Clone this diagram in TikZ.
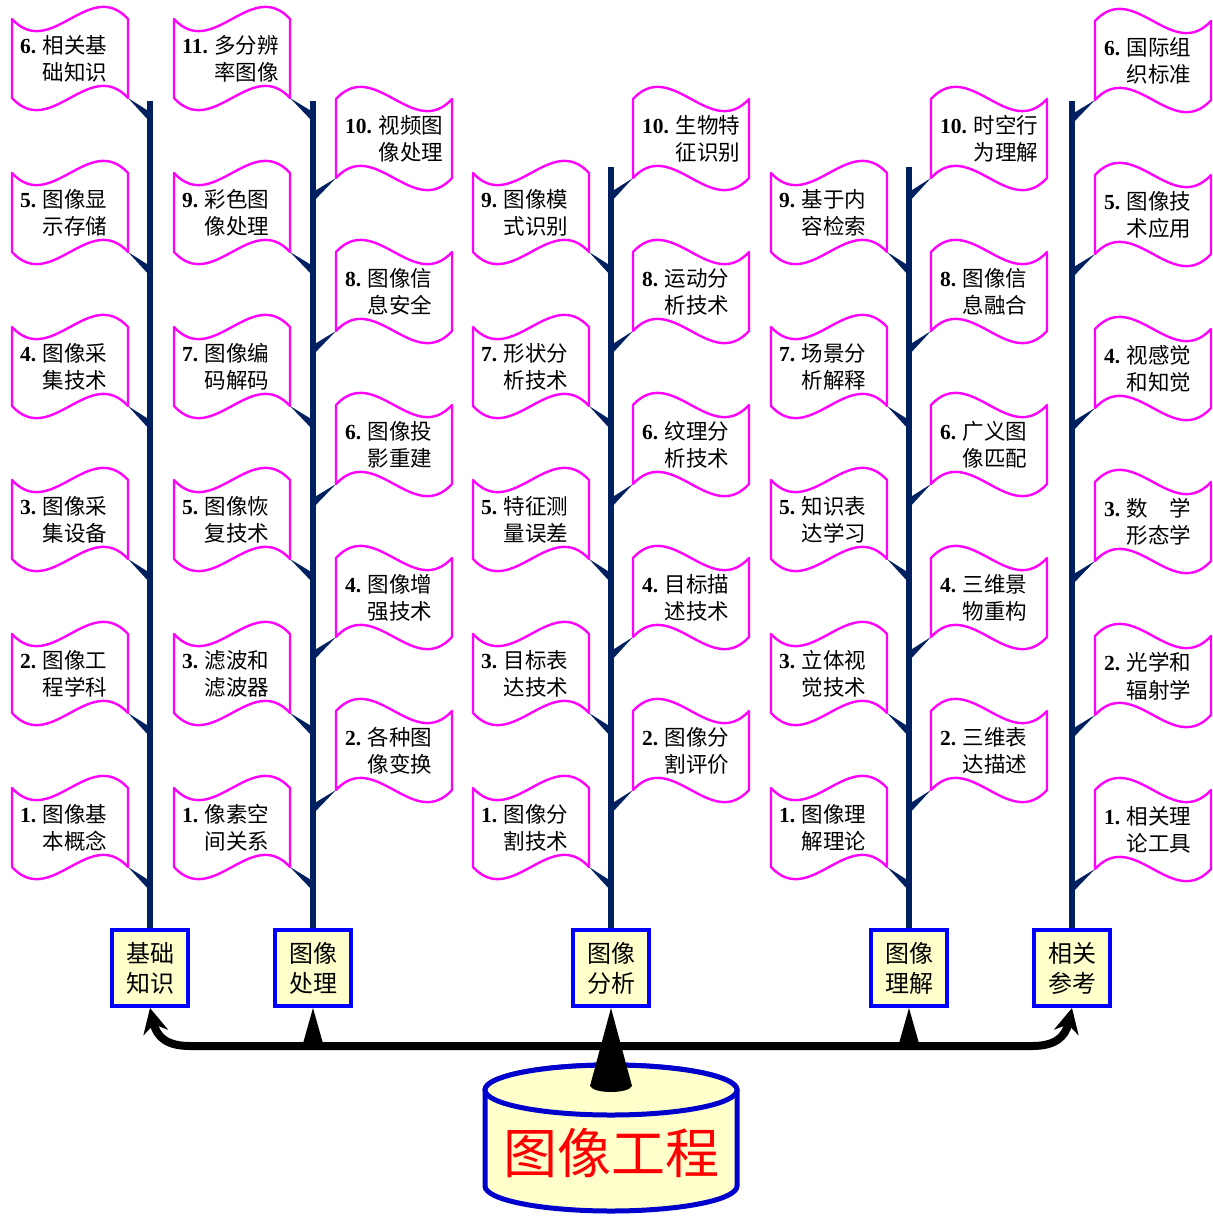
\documentclass[tikz,border=0pt]{standalone}
\usepackage{fontspec}
\setmainfont{Liberation Serif}
\newfontfamily\cjk{Noto Sans CJK SC}
\usetikzlibrary{arrows.meta}
\definecolor{navy}{RGB}{0,32,96}
\definecolor{flagmag}{RGB}{255,0,255}
\definecolor{boxblue}{RGB}{0,0,255}
\definecolor{paleyel}{RGB}{255,255,204}
\definecolor{cylblue}{RGB}{0,0,204}
\newcommand\flnum[1]{{\rmfamily\bfseries #1}}
\tikzset{
  flagedge/.style={draw=flagmag, line width=2.4pt, fill=white, line join=round},
  flagtext/.style={anchor=west, align=left, inner sep=0pt, font=\cjk\fontsize{21.5}{27.5}\selectfont},
  catbox/.style={draw=boxblue, line width=4pt, fill=paleyel, minimum width=76pt, minimum height=76pt, align=center, inner sep=0pt, font=\cjk\fontsize{24}{30}\selectfont},
  pole/.style={draw=navy, line width=6pt},
  mainarrow/.style={line width=8pt, -{Stealth[length=25pt,width=25pt]}},
  cyl/.style={draw=cylblue, line width=5pt, fill=paleyel},
}
% left flag: name, cx, cy, num, line1, line2, pole x
\newcommand\LF[7]{%
  \fill[navy] (#2,#3) -- (#7,#3+14) -- (#7,#3+24) -- cycle;
  \draw[flagedge] (#2-116,#3) -- (#2-116,#3-79) .. controls (#2-77.3,#3-37) and (#2-38.7,#3-121) .. (#2,#3-79) -- (#2,#3) .. controls (#2-38.7,#3-42) and (#2-77.3,#3+42) .. cycle;
  \node[flagtext] (#1) at (#2-108,#3-39) {\flnum{#4} #5\\\phantom{\flnum{#4} }#6};
}
% right flag
\newcommand\RF[7]{%
  \fill[navy] (#2,#3) -- (#7,#3+14) -- (#7,#3+24) -- cycle;
  \draw[flagedge] (#2,#3) -- (#2,#3-79) .. controls (#2+38.7,#3-121) and (#2+77.3,#3-37) .. (#2+116,#3-79) -- (#2+116,#3) .. controls (#2+77.3,#3+42) and (#2+38.7,#3-42) .. cycle;
  \node[flagtext] (#1) at (#2+9,#3-39) {\flnum{#4} #5\\\phantom{\flnum{#4} }#6};
}
\begin{document}
\begin{tikzpicture}[x=1pt,y=-1pt]
\useasboundingbox (0,0) rectangle (1213,1216);
% category boxes
\node[catbox] (b1) at (150,968) {基础\\知识};
\node[catbox] (b2) at (313,968) {图像\\处理};
\node[catbox] (b3) at (611,968) {图像\\分析};
\node[catbox] (b4) at (909,968) {图像\\理解};
\node[catbox] (b5) at (1072,968) {相关\\参考};
% poles
\coordinate (t1) at (150,101);
\coordinate (t2) at (313,101);
\coordinate (t3) at (611,167);
\coordinate (t4) at (909,167);
\coordinate (t5) at (1072,101);
\draw[pole] (t1) -- (b1.north);
\draw[pole] (t2) -- (b2.north);
\draw[pole] (t3) -- (b3.north);
\draw[pole] (t4) -- (b4.north);
\draw[pole] (t5) -- (b5.north);
% pole 1
\LF{a6}{128}{98}{6.}{相关基}{础知识}{150}
\LF{a5}{128}{252}{5.}{图像显}{示存储}{150}
\LF{a4}{128}{406}{4.}{图像采}{集技术}{150}
\LF{a3}{128}{559}{3.}{图像采}{集设备}{150}
\LF{a2}{128}{713}{2.}{图像工}{程学科}{150}
\LF{a1}{128}{867}{1.}{图像基}{本概念}{150}
% pole 2
\LF{c11}{290}{98}{11.}{多分辨}{率图像}{313}
\LF{c9}{290}{252}{9.}{彩色图}{像处理}{313}
\LF{c7}{290}{406}{7.}{图像编}{码解码}{313}
\LF{c5}{290}{559}{5.}{图像恢}{复技术}{313}
\LF{c3}{290}{713}{3.}{滤波和}{滤波器}{313}
\LF{c1}{290}{867}{1.}{像素空}{间关系}{313}
\RF{c10}{336}{178}{10.}{视频图}{像处理}{313}
\RF{c8}{336}{331}{8.}{图像信}{息安全}{313}
\RF{c6}{336}{484}{6.}{图像投}{影重建}{313}
\RF{c4}{336}{637}{4.}{图像增}{强技术}{313}
\RF{c2}{336}{790}{2.}{各种图}{像变换}{313}
% pole 3
\LF{d9}{589}{252}{9.}{图像模}{式识别}{611}
\LF{d7}{589}{406}{7.}{形状分}{析技术}{611}
\LF{d5}{589}{559}{5.}{特征测}{量误差}{611}
\LF{d3}{589}{713}{3.}{目标表}{达技术}{611}
\LF{d1}{589}{867}{1.}{图像分}{割技术}{611}
\RF{d10}{633}{178}{10.}{生物特}{征识别}{611}
\RF{d8}{633}{331}{8.}{运动分}{析技术}{611}
\RF{d6}{633}{484}{6.}{纹理分}{析技术}{611}
\RF{d4}{633}{637}{4.}{目标描}{述技术}{611}
\RF{d2}{633}{790}{2.}{图像分}{割评价}{611}
% pole 4
\LF{e9}{887}{252}{9.}{基于内}{容检索}{909}
\LF{e7}{887}{406}{7.}{场景分}{析解释}{909}
\LF{e5}{887}{559}{5.}{知识表}{达学习}{909}
\LF{e3}{887}{713}{3.}{立体视}{觉技术}{909}
\LF{e1}{887}{867}{1.}{图像理}{解理论}{909}
\RF{e10}{931}{178}{10.}{时空行}{为理解}{909}
\RF{e8}{931}{331}{8.}{图像信}{息融合}{909}
\RF{e6}{931}{484}{6.}{广义图}{像匹配}{909}
\RF{e4}{931}{637}{4.}{三维景}{物重构}{909}
\RF{e2}{931}{790}{2.}{三维表}{达描述}{909}
% pole 5
\RF{g6}{1095}{100}{6.}{国际组}{织标准}{1072}
\RF{g5}{1095}{254}{5.}{图像技}{术应用}{1072}
\RF{g4}{1095}{408}{4.}{视感觉}{和知觉}{1072}
\RF{g3}{1095}{561}{3.}{数\hspace{1em}学}{形态学}{1072}
\RF{g2}{1095}{715}{2.}{光学和}{辐射学}{1072}
\RF{g1}{1095}{869}{1.}{相关理}{论工具}{1072}
% distribution lines
\coordinate (hub) at (611,1046);
\draw[mainarrow] (hub) -- (190,1046) .. controls (168,1046) and (157,1038) .. (b1.south);
\draw[mainarrow] (hub) -- (1032,1046) .. controls (1054,1046) and (1065,1038) .. (b5.south);
\fill (b2.south) -- ++(-11,39) -- ++(22,0) -- cycle;
\fill (b4.south) -- ++(-11,39) -- ++(22,0) -- cycle;
% cylinder
\filldraw[cyl] (485,1090) -- (485,1186) .. controls (485,1199.8) and (541.4,1211) .. (611,1211) .. controls (680.6,1211) and (737,1199.8) .. (737,1186) -- (737,1090) .. controls (737,1076.2) and (680.6,1065) .. (611,1065) .. controls (541.4,1065) and (485,1076.2) .. cycle;
\draw[cyl] (611,1090) ellipse [x radius=126pt, y radius=25pt];
\node[text=red, font=\cjk\fontsize{54}{60}\selectfont, inner sep=0pt] (eng) at (611,1153) {图像工程};
% central cone
\fill (b3.south) -- (590,1086) .. controls (594,1094) and (628,1094) .. (632,1086) -- cycle;
\end{tikzpicture}
\end{document}
